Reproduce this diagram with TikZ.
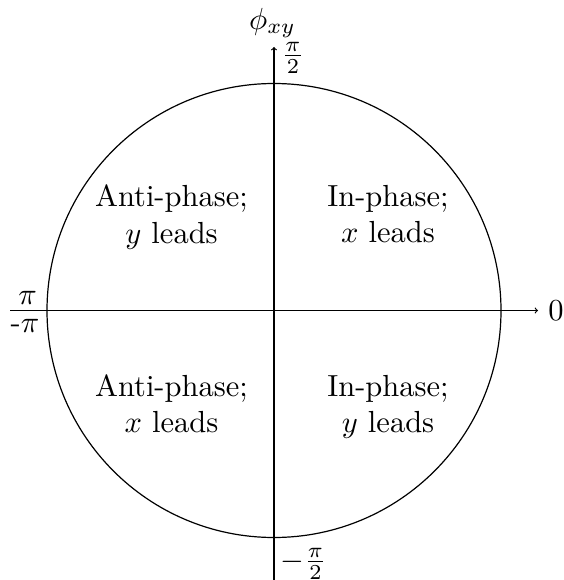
\documentclass[tikz,border=0pt]{standalone}
\begin{document}
\begin{tikzpicture}[x=1pt,y=-1pt,line width=1.2pt,
  lbl/.style={scale=3.05,inner sep=0pt},
  region/.style={scale=3.05,align=center,inner sep=0pt}]
\useasboundingbox (0,0) rectangle (563,580);
\coordinate (O) at (274,310.5);
\coordinate (xl) at (10,310.5);
\coordinate (xr) at (538,310.5);
\coordinate (yb) at (274,581);
\coordinate (yt) at (274,47);
\draw (O) circle[radius=227pt];
\draw[->] (xl) -- (xr);
\draw[->] (yb) -- (yt);
\node[lbl] (phi) at (272.5,23) {$\phi_{xy}$};
\node[lbl] (top) at (293,58) {$\frac{\pi}{2}$};
\node[lbl] (bot) at (303.5,564) {$-\frac{\pi}{2}$};
\node[lbl] (pi) at (27.5,297.5) {$\pi$};
\node[lbl] (mpi) at (25,326) {-$\pi$};
\node[lbl] (zero) at (556,311) {0};
\node[region] (ul) at (171.5,216.9) {Anti-phase;\\$y$ leads};
\node[region] (ur) at (388,213.9) {In-phase;\\$x$ leads};
\node[region] (ll) at (171.5,403.9) {Anti-phase;\\$x$ leads};
\node[region] (lr) at (388,406.9) {In-phase;\\$y$ leads};
\end{tikzpicture}
\end{document}
